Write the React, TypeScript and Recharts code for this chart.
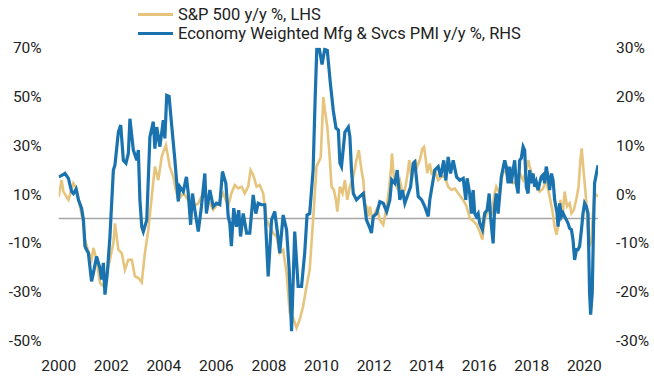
import { LineChart, Line, XAxis, YAxis, ReferenceLine } from 'recharts';

const GOLD = '#E6C47C';
const BLUE = '#1A73AE';
const FONT = 'Roboto, "Noto Sans", sans-serif';

const xTicks = [2000, 2002, 2004, 2006, 2008, 2010, 2012, 2014, 2016, 2018, 2020];
const lhsTicks = [-50, -30, -10, 10, 30, 50, 70];
const rhsTicks = [-30, -20, -10, 0, 10, 20, 30];

// S&P 500 y/y %, left axis
const spxT = [
  2000.0, 2000.11, 2000.18, 2000.37, 2000.56, 2000.68, 2000.81, 2000.94, 2001.0, 2001.13,
  2001.25, 2001.32, 2001.44, 2001.57, 2001.7, 2001.83, 2001.95, 2002.08, 2002.14, 2002.27,
  2002.4, 2002.52, 2002.65, 2002.78, 2002.9, 2003.03, 2003.16, 2003.28, 2003.41, 2003.54,
  2003.66, 2003.79, 2003.92, 2004.08, 2004.23, 2004.36, 2004.45, 2004.55, 2004.74, 2004.93,
  2005.12, 2005.31, 2005.5, 2005.69, 2005.88, 2006.07, 2006.26, 2006.45, 2006.57, 2006.7,
  2006.83, 2006.96, 2007.08, 2007.21, 2007.3, 2007.4, 2007.53, 2007.65, 2007.78, 2007.91,
  2008.03, 2008.16, 2008.29, 2008.41, 2008.54, 2008.67, 2008.79, 2008.92, 2009.05, 2009.17,
  2009.3, 2009.43, 2009.55, 2009.68, 2009.81, 2009.97, 2010.07, 2010.13, 2010.22, 2010.32,
  2010.38, 2010.47, 2010.55, 2010.6, 2010.7, 2010.8, 2010.89, 2010.98, 2011.08, 2011.21,
  2011.33, 2011.42, 2011.52, 2011.59, 2011.65, 2011.71, 2011.78, 2011.84, 2011.94, 2012.03,
  2012.12, 2012.22, 2012.35, 2012.48, 2012.58, 2012.65, 2012.68, 2012.75, 2012.86, 2012.98,
  2013.08, 2013.17, 2013.26, 2013.34, 2013.43, 2013.55, 2013.64, 2013.74, 2013.84, 2013.9,
  2013.97, 2014.02, 2014.12, 2014.19, 2014.31, 2014.44, 2014.57, 2014.69, 2014.82, 2014.95,
  2015.07, 2015.2, 2015.39, 2015.52, 2015.64, 2015.77, 2015.9, 2016.02, 2016.12, 2016.21,
  2016.34, 2016.47, 2016.59, 2016.65, 2016.78, 2016.91, 2017.03, 2017.16, 2017.29, 2017.41,
  2017.54, 2017.67, 2017.79, 2017.86, 2017.92, 2018.05, 2018.17, 2018.3, 2018.43, 2018.55,
  2018.68, 2018.78, 2018.87, 2018.94, 2019.0, 2019.09, 2019.17, 2019.25, 2019.34, 2019.44,
  2019.51, 2019.6, 2019.69, 2019.78, 2019.85, 2019.9, 2019.98, 2020.08, 2020.14, 2020.2,
  2020.27, 2020.33, 2020.39, 2020.46, 2020.52,
];
const spxV = [
  8.9, 15.7, 11, 7.6, 14.4, 12.3, 4.9, -2, -8.7, -13.5,
  -16.9, -12.1, -16.9, -26.4, -27.8, -22.3, -16.9, -10.1, -2, -12.8,
  -14.2, -21, -16.9, -16.9, -23.7, -24.4, -26.2, -14.2, -4.7, 8.9,
  21.2, 15.7, 25.3, 30, 21, 17.1, 12, 7.6, 10.3, 7.6,
  4.9, 6.2, 10.3, 7.6, 3.5, 6.2, 10.3, 4.9, 10.3, 13.7,
  12.3, 13, 10.3, 13, 19.8, 17.8, 13, 13.7, 10.3, -0.6,
  -3.3, -6, -7.4, -14.2, -12.8, -22.3, -38.7, -40.7, -44.8, -41.4,
  -36, -27.8, -21, -0.6, 21.2, 25, 49.7, 44.3, 37.5, 23.9,
  13, 11.7, 7.6, 2.8, 13, 10.3, 15.7, 7.6, 13, 17.1,
  23.9, 28, 19.8, 15.7, 6.2, 4.9, 0.8, 4.9, -0.6, 2.1,
  4.2, -0.6, -2.6, 4.9, 13, 21.2, 26.6, 17.1, 13, 15.7,
  10.3, 11.7, 17.1, 23.9, 15.7, 23.9, 21.2, 23.9, 28.7, 29.3,
  23.9, 18.5, 22.5, 18.5, 19.8, 15.7, 17.1, 17.1, 13, 11.7,
  12.3, 10.3, 7.6, 4.9, 0, -1, -2.5, -5.5, -8.7, -0.6,
  3.5, 2.1, 10.3, 13, 10.3, 19.8, 18.5, 15.7, 14.4, 15.1,
  18.5, 15.7, 19.8, 23.9, 21.2, 16.4, 13, 11, 12.3, 15.7,
  8.9, 3.5, -3.3, -6.7, -3.3, 7.6, 0.8, 11, 4.9, 6.2,
  2.1, 3.5, 7.6, 13, 23.9, 28.7, 18.5, 6.2, -6, -11.5,
  -8.7, 2.1, 10.3, 9.6, 8.9,
];

// Economy weighted Mfg & Svcs PMI y/y %, right axis
const pmiT = [
  2000.0, 2000.12, 2000.24, 2000.37, 2000.49, 2000.56, 2000.66, 2000.75, 2000.87, 2000.94,
  2001.0, 2001.06, 2001.13, 2001.25, 2001.32, 2001.44, 2001.57, 2001.63, 2001.7, 2001.76,
  2001.85, 2001.95, 2002.08, 2002.14, 2002.27, 2002.36, 2002.46, 2002.56, 2002.65, 2002.71,
  2002.84, 2002.97, 2003.03, 2003.09, 2003.16, 2003.22, 2003.35, 2003.47, 2003.6, 2003.66,
  2003.73, 2003.85, 2003.98, 2004.04, 2004.11, 2004.2, 2004.3, 2004.42, 2004.55, 2004.61,
  2004.74, 2004.86, 2004.93, 2005.02, 2005.09, 2005.18, 2005.31, 2005.43, 2005.56, 2005.62,
  2005.75, 2005.88, 2006.0, 2006.13, 2006.23, 2006.36, 2006.45, 2006.51, 2006.57, 2006.66,
  2006.76, 2006.85, 2006.92, 2007.02, 2007.15, 2007.27, 2007.4, 2007.5, 2007.59, 2007.72,
  2007.84, 2007.97, 2008.1, 2008.22, 2008.35, 2008.41, 2008.54, 2008.67, 2008.77, 2008.86,
  2008.98, 2009.11, 2009.24, 2009.36, 2009.45, 2009.55, 2009.68, 2009.76, 2009.82, 2009.92,
  2010.02, 2010.12, 2010.22, 2010.33, 2010.45, 2010.55, 2010.64, 2010.7, 2010.76, 2010.89,
  2011.02, 2011.08, 2011.14, 2011.21, 2011.33, 2011.46, 2011.59, 2011.71, 2011.84, 2011.9,
  2011.97, 2012.1, 2012.22, 2012.35, 2012.48, 2012.6, 2012.67, 2012.79, 2012.88, 2012.98,
  2013.08, 2013.17, 2013.3, 2013.39, 2013.49, 2013.55, 2013.68, 2013.81, 2013.93, 2014.06,
  2014.12, 2014.31, 2014.44, 2014.53, 2014.65, 2014.73, 2014.82, 2014.91, 2015.01, 2015.14,
  2015.26, 2015.39, 2015.49, 2015.54, 2015.64, 2015.7, 2015.77, 2015.83, 2015.89, 2015.96,
  2016.02, 2016.12, 2016.21, 2016.3, 2016.38, 2016.43, 2016.53, 2016.59, 2016.65, 2016.72,
  2016.84, 2016.97, 2017.03, 2017.1, 2017.16, 2017.22, 2017.29, 2017.35, 2017.41, 2017.48,
  2017.54, 2017.6, 2017.67, 2017.73, 2017.79, 2017.86, 2017.92, 2017.98, 2018.05, 2018.11,
  2018.17, 2018.24, 2018.3, 2018.36, 2018.43, 2018.49, 2018.55, 2018.62, 2018.68, 2018.75,
  2018.81, 2018.87, 2018.96, 2019.0, 2019.06, 2019.13, 2019.19, 2019.25, 2019.32, 2019.38,
  2019.44, 2019.51, 2019.57, 2019.63, 2019.7, 2019.76, 2019.82, 2019.89, 2019.95, 2020.01,
  2020.08, 2020.14, 2020.2, 2020.24, 2020.3, 2020.35, 2020.39, 2020.46, 2020.52,
];
const pmiV = [
  3.5, 3.8, 4.2, 3.2, 0.5, 0.1, 1.0, -1.2, -2.9, -5.3,
  -10.7, -11.4, -12.1, -17.9, -16.2, -12.8, -15.2, -17.5, -14.1, -20.6,
  -16.2, -8.7, 4.9, 5.9, 12.7, 14.1, 6.9, 6.3, 8.3, 15.4,
  9.0, 6.9, 9.0, -1.2, -6.7, -7.7, -5.3, 11.7, 14.8, 9.3,
  13.7, 9.7, 15.1, 11.4, 20.2, 20.0, 14, 7, -1.5, 1.5,
  0.5, 3.5, 0.1, -6.3, 0.1, -3.3, -7.7, -2.6, 4.2, -4.0,
  0.8, -2.6, -1.9, -2.2, 4.6, 2.2, -4.6, -6.0, -10.7, -2.9,
  -6.7, -3.3, -8.7, -4.0, -8.0, -8.0, -0.2, -4.0, -1.9, -2.2,
  -2.2, -16.9, -5.3, -3.6, -9.0, -12.1, -4.3, -7.3, -15.5, -28.1,
  -7.7, -18.9, -18.9, -12.1, -4.3, -4.0, 4.9, 20, 29.6, 29.6,
  26.5, 29.6, 29.4, 23, 17, 13.5, 13.1, 6.3, 5.6, 12.7,
  13.7, 11.7, 4.9, 0.1, -1.2, -0.5, 0.1, -5.3, -7.0, -8.0,
  -4.6, -4.0, -1.6, -1.9, -3.6, -1.2, 2.9, 2.2, 4.9, -1.2,
  0.8, -1.9, 0.1, 1.5, 6.3, 6.6, -0.5, -1.2, -2.6, -4.6,
  -1.2, 4.9, 5.6, 3.5, 6.9, 2.8, 7.6, 4.2, 6.9, 3.5,
  2.8, 3.2, -1.2, 3.2, 0, -4.0, 0.8, -4.0, -4.6, -4.0,
  -6.0, -7.3, -3.9, -3.3, 0.1, -4.6, -10.1, -2.6, 0.1, -4.0,
  3.5, 6.9, 5.6, 2.2, 5.6, 2.2, 4.9, 6.9, 2.2, 0.1,
  6.9, 7.3, 9.7, 9.0, 1.5, 0.1, 4.9, 2.2, 4.2, 1.5,
  2.5, 0.8, 2.2, 3.5, 3.9, 2.2, 5.6, 3.5, 0.8, 4.2,
  2.8, -1.2, -3.9, -6.7, -1.9, -4.6, -3.9, -4.6, -5.3, -6.0,
  -7.0, -7.3, -9.4, -13.5, -11.4, -11.4, -10.7, -7.3, -4.0, -1.9,
  -2.6, -4.0, -20.3, -24.7, -20.3, -6.7, 2.2, 4.2, 5.9,
];

const spxData = spxT.map((t, i) => ({ t, v: spxV[i] }));
const pmiData = pmiT.map((t, i) => ({ t, v: pmiV[i] }));

const tickStyle = { fill: '#222', fontSize: 15.5, fontFamily: FONT };

function LegendOverlay() {
  const rows = [
    { color: GOLD, label: 'S&P 500 y/y %, LHS', top: 4 },
    { color: BLUE, label: 'Economy Weighted Mfg & Svcs PMI y/y %, RHS', top: 23 },
  ];
  return (
    <>
      {rows.map((r) => (
        <div
          key={r.label}
          style={{
            position: 'absolute',
            left: 138,
            top: r.top,
            height: 20,
            display: 'flex',
            alignItems: 'center',
            fontFamily: FONT,
            fontSize: 16.5,
            color: '#222',
            whiteSpace: 'nowrap',
          }}
        >
          <span style={{ display: 'inline-block', width: 35, height: 3, background: r.color, marginRight: 5 }} />
          {r.label}
        </div>
      ))}
    </>
  );
}

export default function App() {
  return (
    <div style={{ position: 'absolute', left: 0, top: 0, width: 654, height: 378, background: '#fff' }}>
      <LineChart
        width={654}
        height={378}
        margin={{ top: 47.5, right: 6, bottom: 7.5, left: 8.7 }}
      >
        <XAxis
          type='number'
          dataKey='t'
          domain={[2000, 2020.52]}
          ticks={xTicks}
          allowDataOverflow
          axisLine={false}
          tickLine={false}
          tickSize={0}
          tickMargin={19}
          height={30}
          tick={tickStyle}
        />
        <YAxis
          yAxisId='lhs'
          domain={[-50, 70]}
          ticks={lhsTicks}
          allowDataOverflow
          axisLine={false}
          tickLine={false}
          tickSize={0}
          tickMargin={17}
          width={50}
          tick={tickStyle}
          tickFormatter={(v) => `${v}%`}
        />
        <YAxis
          yAxisId='rhs'
          orientation='right'
          domain={[-30, 30]}
          ticks={rhsTicks}
          allowDataOverflow
          axisLine={false}
          tickLine={false}
          tickSize={0}
          tickMargin={18}
          width={50}
          tick={tickStyle}
          tickFormatter={(v) => `${v}%`}
        />
        <ReferenceLine yAxisId='lhs' y={0} stroke='#a6a6a6' strokeWidth={1.5} />
        <Line
          yAxisId='lhs'
          data={spxData}
          dataKey='v'
          type='linear'
          stroke={GOLD}
          strokeWidth={2.6}
          dot={false}
          isAnimationActive={false}
        />
        <Line
          yAxisId='rhs'
          data={pmiData}
          dataKey='v'
          type='linear'
          stroke={BLUE}
          strokeWidth={3.2}
          dot={false}
          isAnimationActive={false}
        />
      </LineChart>
      <LegendOverlay />
    </div>
  );
}
